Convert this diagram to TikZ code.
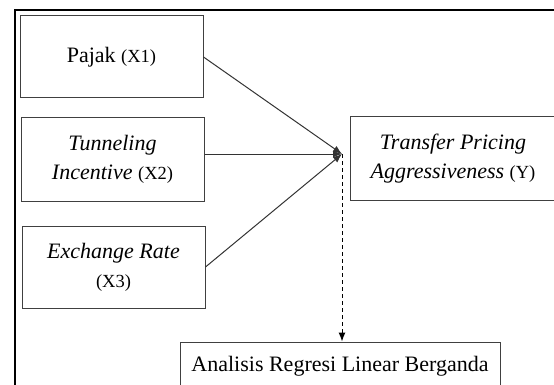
\documentclass[tikz,border=0pt]{standalone}
\usepackage{fontspec}
\setmainfont{Liberation Serif}
\usetikzlibrary{arrows.meta}
\newcommand{\varlabel}[1]{{\fontsize{18.5}{22}\selectfont #1}}
\begin{document}
\begin{tikzpicture}[x=1pt, y=-1pt, line width=1pt,
    varbox/.style={draw=black!75, minimum width=183pt, minimum height=82pt,
        align=center, inner sep=0pt, font=\fontsize{22}{29}\selectfont},
    tip/.style={-{Latex[length=9pt,width=7pt]}}]
    \clip (0,0) rectangle (554,385);
    % Frame
    \draw[line width=2pt] (15,420) -- (15,10) -- (600,10);

    % Nodes
    \node at (111.5, 57) (pajak) [varbox] {Pajak \varlabel{(X1)}};
    \node at (112.5, 159.5) (tunnel) [varbox, minimum height=83pt] {\textit{Tunneling}\\\textit{Incentive} \varlabel{(X2)}};
    \node at (113.5, 267) (kurs) [varbox] {\textit{Exchange Rate}\\\varlabel{(X3)}};
    \node at (453, 158.5) (tpa) [varbox, minimum width=206pt, minimum height=83pt] {\textit{Transfer Pricing}\\\textit{Aggressiveness} \varlabel{(Y)}};
    \node at (340, 366) (regresi) [varbox, minimum width=320pt, minimum height=48pt] {Analisis Regresi Linear Berganda};
    \coordinate (join) at (342, 154);

    % Arrows
    \draw[tip, black!80] (pajak.east) -- (join);
    \draw[tip, black!80] (tunnel.east |- join) -- (join);
    \draw[tip, black!80] (kurs.east) -- (join);
    \draw[tip, dashed, dash pattern=on 4pt off 3pt] (join) -- (join |- regresi.north);
\end{tikzpicture}
\end{document}
